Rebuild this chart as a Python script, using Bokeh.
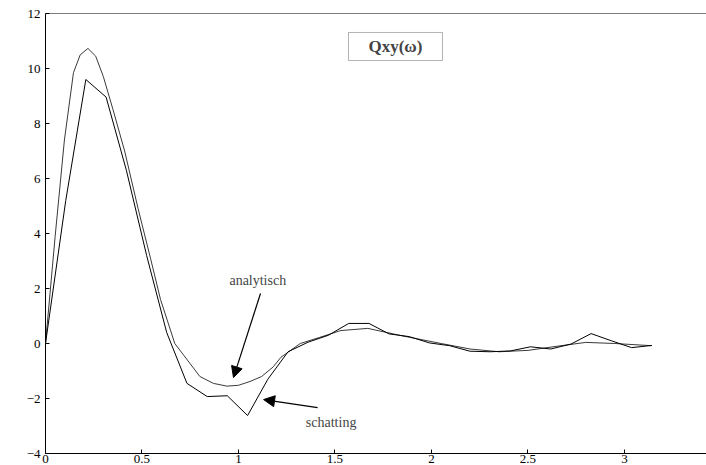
from bokeh.plotting import figure
from bokeh.models import (LinearAxis, Range1d, Arrow, NormalHead, Label,
                          FixedTicker, BoxAnnotation, Span)
from bokeh.embed import file_html
from bokeh.resources import INLINE

# analytic curve Qxy(omega)
ana_x = [0.0, 0.05, 0.098, 0.145, 0.18, 0.22, 0.26, 0.30, 0.35, 0.41, 0.48,
         0.544, 0.596, 0.67, 0.735, 0.80, 0.87, 0.94, 1.00, 1.06, 1.12, 1.18,
         1.22, 1.32, 1.42, 1.53, 1.67, 1.84, 2.05, 2.20, 2.35, 2.50, 2.65,
         2.80, 2.95, 3.14]
ana_y = [0.0, 3.9, 7.4, 9.85, 10.5, 10.73, 10.45, 9.7, 8.5, 7.0, 4.9,
         3.1, 1.6, 0.0, -0.6, -1.2, -1.45, -1.55, -1.52, -1.38, -1.2, -0.85,
         -0.5, 0.0, 0.22, 0.47, 0.55, 0.29, 0.0, -0.2, -0.3, -0.25, -0.1,
         0.04, 0.0, -0.08]

# estimate (schatting)
est_x = [0.000, 0.105, 0.209, 0.314, 0.419, 0.524, 0.628, 0.733, 0.838, 0.942,
         1.047, 1.152, 1.257, 1.361, 1.466, 1.571, 1.676, 1.780, 1.885, 1.990,
         2.094, 2.199, 2.304, 2.409, 2.513, 2.618, 2.723, 2.827, 2.932, 3.037,
         3.142]
est_y = [0.0, 5.2, 9.6, 8.96, 6.3, 3.2, 0.4, -1.45, -1.93, -1.9,
         -2.62, -1.3, -0.3, 0.05, 0.3, 0.73, 0.73, 0.35, 0.25, 0.02,
         -0.08, -0.28, -0.3, -0.27, -0.12, -0.2, -0.02, 0.36, 0.1, -0.15,
         -0.07]

x_ticks = [0, 0.5, 1, 1.5, 2, 2.5, 3]
y_ticks = [-4, -2, 0, 2, 4, 6, 8, 10, 12]

FONT = "Liberation Serif"

p = figure(width=706, height=465, output_backend="svg", toolbar_location=None,
           x_range=Range1d(0, 3.425), y_range=Range1d(-4, 12),
           x_axis_location=None, y_axis_location=None,
           min_border_left=45, min_border_right=0, min_border_top=13,
           min_border_bottom=0)
p.outline_line_color = None
p.xgrid.visible = False
p.ygrid.visible = False
p.background_fill_color = "white"
p.border_fill_color = "white"


def style_axis(ax):
    ax.axis_line_color = "black"
    ax.axis_line_width = 1
    ax.major_tick_in = 4
    ax.major_tick_out = 0
    ax.minor_tick_in = 0
    ax.minor_tick_out = 0
    ax.major_tick_line_color = "black"
    ax.major_label_text_font = FONT
    ax.major_label_text_color = "black"
    ax.major_label_text_font_size = "13px"
    ax.major_label_standoff = 1


xb = LinearAxis(ticker=FixedTicker(ticks=x_ticks))
style_axis(xb)
p.add_layout(xb, "below")

yl = LinearAxis(ticker=FixedTicker(ticks=y_ticks))
style_axis(yl)
yl.major_label_standoff = 5
p.add_layout(yl, "left")

# top border of the frame
p.add_layout(Span(location=12, dimension="width", line_color="black",
                  line_width=1))

p.line(ana_x, ana_y, line_color="#3a3a3a", line_width=1)
p.line(est_x, est_y, line_color="black", line_width=1)

# title box
box = BoxAnnotation(left=1.57, right=2.057, bottom=10.29, top=11.31,
                    fill_color="white", fill_alpha=1.0,
                    line_color="black", line_width=1)
p.add_layout(box)
p.add_layout(Label(x=1.813, y=10.8, text="Qxy(ω)", text_font=FONT,
                   text_font_size="17px", text_font_style="bold",
                   text_align="center", text_baseline="middle"))

# annotations
p.add_layout(Label(x=1.10, y=2.29, text="analytisch", text_font=FONT,
                   text_font_size="14px", text_align="center",
                   text_baseline="middle"))
p.add_layout(Arrow(end=NormalHead(size=11, fill_color="black",
                                  line_color="black"),
                   x_start=1.114, y_start=1.82, x_end=0.974, y_end=-1.24,
                   line_color="black", line_width=1.2))

p.add_layout(Label(x=1.48, y=-2.87, text="schatting", text_font=FONT,
                   text_font_size="14px", text_align="center",
                   text_baseline="middle"))
p.add_layout(Arrow(end=NormalHead(size=11, fill_color="black",
                                  line_color="black"),
                   x_start=1.41, y_start=-2.33, x_end=1.13, y_end=-2.04,
                   line_color="black", line_width=1.2))

open("out.html", "w").write(file_html(p, INLINE))
